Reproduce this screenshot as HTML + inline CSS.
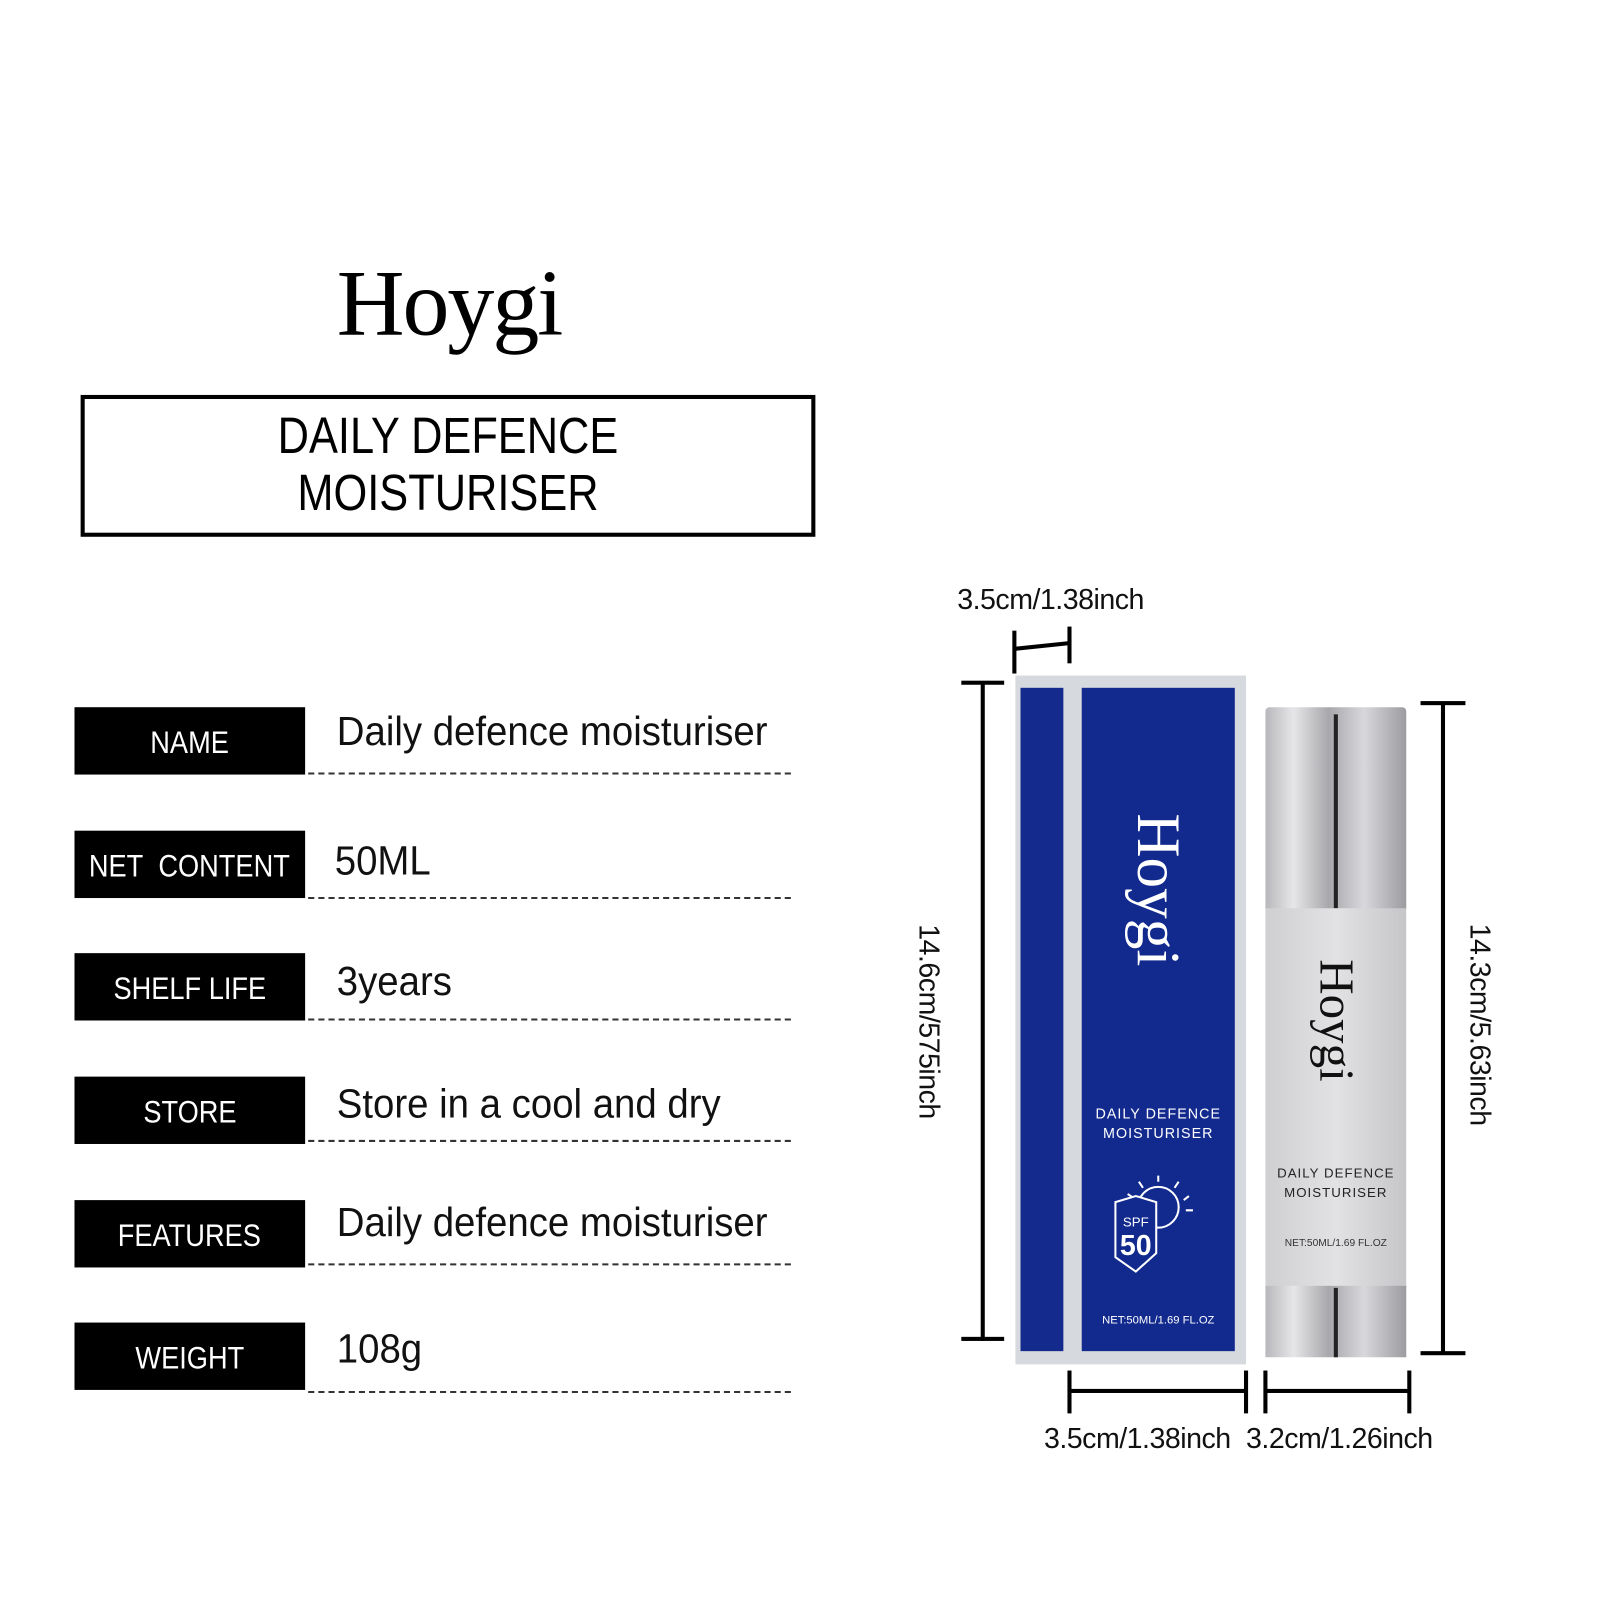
<!DOCTYPE html>
<html><head><meta charset="utf-8"><style>
html,body{margin:0;padding:0;background:#fff;}
body{width:1600px;height:1600px;overflow:hidden;position:relative;font-family:"Liberation Sans",sans-serif;}
#c{position:absolute;left:0;top:0;width:1560px;height:1560px;transform:scale(1.0205);transform-origin:0 0;}
.a{position:absolute;}
.lab{position:absolute;left:73px;width:226px;height:66px;background:#000;color:#fff;font-size:31px;display:flex;align-items:center;justify-content:center;padding-top:4px;box-sizing:border-box;white-space:nowrap;}
.lab span{display:inline-block;transform:scaleX(0.86);}
.val{position:absolute;left:330px;font-size:40px;color:#111;white-space:nowrap;transform:scaleX(0.94);transform-origin:0 0;}
.dash{position:absolute;left:302px;width:473px;border-top:2px dashed #333;}
.k{position:absolute;background:#000;}
.dim{position:absolute;font-size:28px;color:#111;white-space:nowrap;letter-spacing:-0.5px;}
</style></head><body><div id="c">
<div class="a" style="left:240px;top:244px;width:400px;text-align:center;font-family:'Liberation Serif',serif;font-size:92px;color:#000;letter-spacing:-2px;">Hoygi</div>
<div class="a" style="left:79px;top:387px;width:712px;border:4px solid #000;height:131px;"></div>
<div class="a" style="left:79px;top:399px;width:720px;text-align:center;font-size:50px;line-height:56px;transform:scaleX(0.85);">DAILY DEFENCE<br>MOISTURISER</div>

<div class="lab" style="top:693px"><span>NAME</span></div><div class="val" style="top:695px">Daily defence moisturiser</div><div class="dash" style="top:757px"></div>
<div class="lab" style="top:814px"><span>NET&nbsp; CONTENT</span></div><div class="val" style="top:822px;left:328px">50ML</div><div class="dash" style="top:879px"></div>
<div class="lab" style="top:934px"><span>SHELF LIFE</span></div><div class="val" style="top:940px">3years</div><div class="dash" style="top:998px"></div>
<div class="lab" style="top:1055px"><span>STORE</span></div><div class="val" style="top:1060px">Store in a cool and dry</div><div class="dash" style="top:1117px"></div>
<div class="lab" style="top:1176px"><span>FEATURES</span></div><div class="val" style="top:1176px">Daily defence moisturiser</div><div class="dash" style="top:1238px"></div>
<div class="lab" style="top:1296px"><span>WEIGHT</span></div><div class="val" style="top:1300px">108g</div><div class="dash" style="top:1363px"></div>

<!-- box -->
<div class="a" style="left:995px;top:662px;width:226px;height:675px;background:#d6d9de;"></div>
<div class="a" style="left:1000px;top:674px;width:42px;height:650px;background:#142a8c;"></div>
<div class="a" style="left:1060px;top:674px;width:150px;height:650px;background:#122a8e;"></div>
<div class="a" style="left:1080px;top:832px;width:110px;height:40px;transform:rotate(90deg);color:#fff;font-family:'Liberation Serif',serif;font-size:60px;line-height:40px;text-align:center;">Hoygi</div>
<div class="a" style="left:1060px;top:1082px;width:150px;text-align:center;color:#fff;font-size:14px;line-height:19px;letter-spacing:1px;">DAILY DEFENCE<br>MOISTURISER</div>
<svg class="a" style="left:1085px;top:1150px" width="100" height="100"><circle cx="50" cy="33" r="20" fill="none" stroke="#fff" stroke-width="2"/><g stroke="#fff" stroke-width="2"><line x1="50" y1="2" x2="50" y2="8"/><line x1="70" y1="8" x2="66" y2="14"/><line x1="80" y1="22" x2="75" y2="26"/><line x1="84" y1="36" x2="77" y2="36"/><line x1="31" y1="8" x2="35" y2="14"/><line x1="20" y1="20" x2="26" y2="24"/></g><polygon points="8,28 28,22 48,28 48,78 28,96 8,82" fill="#122a8e" stroke="#fff" stroke-width="2"/><text x="28" y="52" fill="#fff" font-size="13" text-anchor="middle" font-family="Liberation Sans">SPF</text><text x="28" y="80" fill="#fff" font-size="28" font-weight="bold" text-anchor="middle" font-family="Liberation Sans">50</text></svg>
<div class="a" style="left:1060px;top:1288px;width:150px;text-align:center;color:#fff;font-size:11px;">NET:50ML/1.69 FL.OZ</div>
<!-- bottle -->
<div class="a" style="left:1240px;top:693px;width:138px;height:198px;background:linear-gradient(90deg,#b8b8bc,#e6e6e8 20%,#a8a8ac 45%,#d8d8dc 70%,#9c9ca0);border-radius:4px 4px 0 0;"></div>
<div class="a" style="left:1307px;top:700px;width:4px;height:190px;background:#222;"></div>
<div class="a" style="left:1240px;top:890px;width:138px;height:372px;background:linear-gradient(90deg,#cfcfd2,#e2e2e4 50%,#c6c6c9);"></div>
<div class="a" style="left:1240px;top:1260px;width:138px;height:70px;background:linear-gradient(90deg,#b8b8bc,#e6e6e8 20%,#a8a8ac 45%,#d8d8dc 70%,#9c9ca0);"></div>
<div class="a" style="left:1307px;top:1262px;width:4px;height:68px;background:#222;"></div>
<div class="a" style="left:1254px;top:975px;width:110px;height:40px;transform:rotate(90deg);color:#111;font-family:'Liberation Serif',serif;font-size:48px;line-height:40px;text-align:center;">Hoygi</div>
<div class="a" style="left:1240px;top:1140px;width:138px;text-align:center;color:#222;font-size:13px;line-height:19px;letter-spacing:1px;">DAILY DEFENCE<br>MOISTURISER</div>
<div class="a" style="left:1240px;top:1213px;width:138px;text-align:center;color:#333;font-size:10px;">NET:50ML/1.69 FL.OZ</div>
<!-- dims -->
<div class="dim" style="left:938px;top:572px">3.5cm/1.38inch</div>
<div class="k" style="left:992px;top:618px;width:4px;height:42px"></div>
<div class="k" style="left:1046px;top:614px;width:4px;height:36px"></div>
<div class="k" style="left:994px;top:631px;width:54px;height:4px;transform:rotate(-6deg)"></div>
<div class="k" style="left:961px;top:669px;width:4px;height:645px"></div>
<div class="k" style="left:942px;top:667px;width:42px;height:4px"></div>
<div class="k" style="left:942px;top:1310px;width:42px;height:4px"></div>
<div class="dim" style="left:780px;top:985px;width:260px;text-align:center;transform:rotate(90deg)">14.6cm/575inch</div>
<div class="k" style="left:1412px;top:689px;width:4px;height:638px"></div>
<div class="k" style="left:1392px;top:687px;width:44px;height:4px"></div>
<div class="k" style="left:1392px;top:1324px;width:44px;height:4px"></div>
<div class="dim" style="left:1320px;top:988px;width:260px;text-align:center;transform:rotate(90deg)">14.3cm/5.63inch</div>
<div class="k" style="left:1048px;top:1361px;width:173px;height:4px"></div>
<div class="k" style="left:1046px;top:1343px;width:4px;height:42px"></div>
<div class="k" style="left:1219px;top:1343px;width:4px;height:42px"></div>
<div class="k" style="left:1240px;top:1361px;width:141px;height:4px"></div>
<div class="k" style="left:1238px;top:1343px;width:4px;height:42px"></div>
<div class="k" style="left:1379px;top:1343px;width:4px;height:42px"></div>
<div class="dim" style="left:1023px;top:1394px">3.5cm/1.38inch</div>
<div class="dim" style="left:1221px;top:1394px">3.2cm/1.26inch</div>
</div></body></html>
